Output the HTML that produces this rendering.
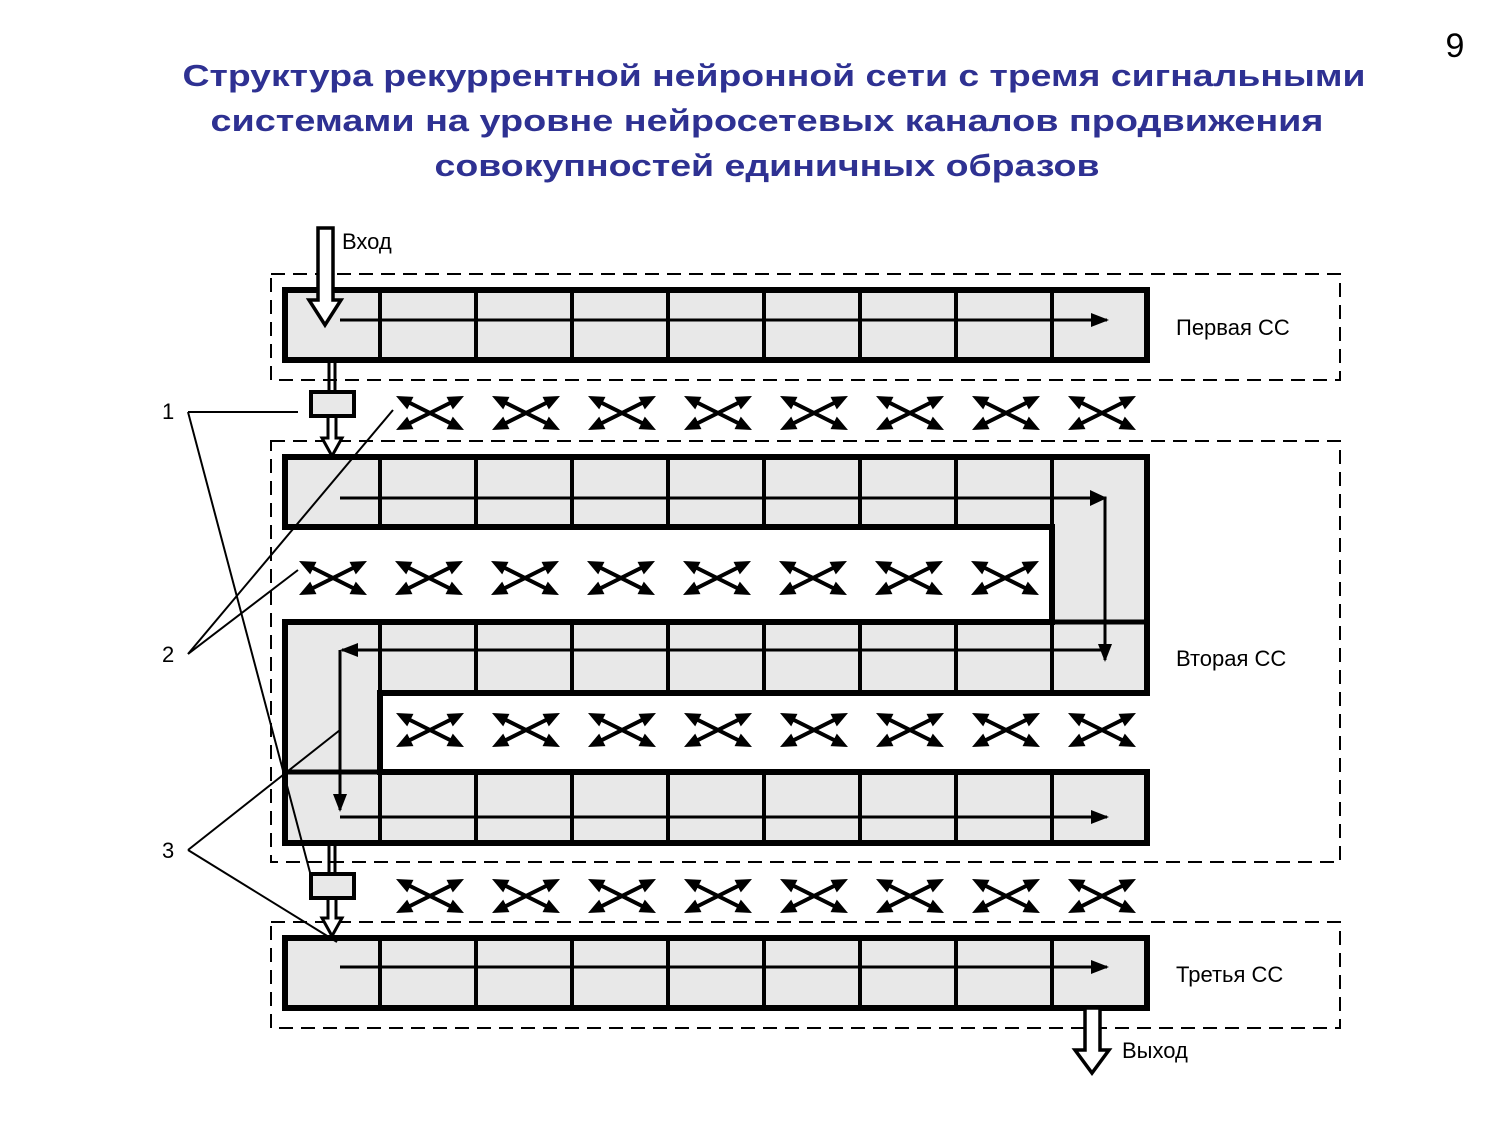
<!DOCTYPE html>
<html><head><meta charset="utf-8"><style>
html,body{margin:0;padding:0;background:#fff;}
svg{display:block;}
</style></head><body>
<svg width="1500" height="1125" viewBox="0 0 1500 1125" xmlns="http://www.w3.org/2000/svg" font-family="Liberation Sans, sans-serif">
<defs>
<marker id="ab" markerWidth="18" markerHeight="14" refX="16" refY="7" orient="auto" markerUnits="userSpaceOnUse">
<path d="M0,0 L18,7 L0,14 Z" fill="#000"/></marker>
<g id="da">
<line x1="-26" y1="0" x2="26" y2="0" stroke="#000" stroke-width="4"/>
<path d="M38,0 L22,-7 L22,7 Z M-38,0 L-22,-7 L-22,7 Z" fill="#000"/>
</g>
<g id="x">
<use href="#da" transform="rotate(26.6)"/>
<use href="#da" transform="rotate(-26.6)"/>
</g>
</defs>

<text x="1455" y="57" font-size="34" text-anchor="middle">9</text>
<g fill="#2e3192" font-weight="bold" font-size="31" text-anchor="middle">
<text x="774" y="86" textLength="1183" lengthAdjust="spacingAndGlyphs">Структура рекуррентной нейронной сети с тремя сигнальными</text>
<text x="767" y="131" textLength="1113" lengthAdjust="spacingAndGlyphs">системами  на уровне нейросетевых каналов продвижения</text>
<text x="767" y="176" textLength="665" lengthAdjust="spacingAndGlyphs">совокупностей единичных образов</text>
</g>

<g fill="none" stroke="#000" stroke-width="2" stroke-dasharray="14,8">
<rect x="271" y="274" width="1069" height="106"/>
<rect x="271" y="441" width="1069" height="421"/>
<rect x="271" y="922" width="1069" height="106"/>
</g>

<rect x="285" y="290" width="862" height="70" fill="#e8e8e8" stroke="#000" stroke-width="6"/>
<rect x="285" y="938" width="862" height="70" fill="#e8e8e8" stroke="#000" stroke-width="6"/>
<path d="M285,457 L1147,457 L1147,693 L380,693 L380,772 L1147,772 L1147,843 L285,843 L285,622 L1052,622 L1052,527 L285,527 Z" fill="#e8e8e8" stroke="#000" stroke-width="6" stroke-linejoin="miter"/>
<g stroke="#000" stroke-width="4">
<line x1="1052" y1="622" x2="1147" y2="622" stroke-width="5"/>
<line x1="285" y1="772" x2="380" y2="772" stroke-width="5"/>
<line x1="1052" y1="457" x2="1052" y2="527"/>
</g>
<g stroke="#000" stroke-width="4">
<line x1="380" y1="290" x2="380" y2="360"/><line x1="476" y1="290" x2="476" y2="360"/><line x1="572" y1="290" x2="572" y2="360"/><line x1="668" y1="290" x2="668" y2="360"/><line x1="764" y1="290" x2="764" y2="360"/><line x1="860" y1="290" x2="860" y2="360"/><line x1="956" y1="290" x2="956" y2="360"/><line x1="1052" y1="290" x2="1052" y2="360"/>
<line x1="380" y1="938" x2="380" y2="1008"/><line x1="476" y1="938" x2="476" y2="1008"/><line x1="572" y1="938" x2="572" y2="1008"/><line x1="668" y1="938" x2="668" y2="1008"/><line x1="764" y1="938" x2="764" y2="1008"/><line x1="860" y1="938" x2="860" y2="1008"/><line x1="956" y1="938" x2="956" y2="1008"/><line x1="1052" y1="938" x2="1052" y2="1008"/>
<line x1="380" y1="457" x2="380" y2="527"/><line x1="476" y1="457" x2="476" y2="527"/><line x1="572" y1="457" x2="572" y2="527"/><line x1="668" y1="457" x2="668" y2="527"/><line x1="764" y1="457" x2="764" y2="527"/><line x1="860" y1="457" x2="860" y2="527"/><line x1="956" y1="457" x2="956" y2="527"/>
<line x1="380" y1="622" x2="380" y2="693"/><line x1="476" y1="622" x2="476" y2="693"/><line x1="572" y1="622" x2="572" y2="693"/><line x1="668" y1="622" x2="668" y2="693"/><line x1="764" y1="622" x2="764" y2="693"/><line x1="860" y1="622" x2="860" y2="693"/><line x1="956" y1="622" x2="956" y2="693"/><line x1="1052" y1="622" x2="1052" y2="693"/>
<line x1="380" y1="772" x2="380" y2="843"/><line x1="476" y1="772" x2="476" y2="843"/><line x1="572" y1="772" x2="572" y2="843"/><line x1="668" y1="772" x2="668" y2="843"/><line x1="764" y1="772" x2="764" y2="843"/><line x1="860" y1="772" x2="860" y2="843"/><line x1="956" y1="772" x2="956" y2="843"/><line x1="1052" y1="772" x2="1052" y2="843"/>
</g>

<g stroke="#000" stroke-width="3" fill="none">
<line x1="340" y1="320" x2="1107" y2="320" marker-end="url(#ab)"/>
<polyline points="340,498 1105,498 1105,660" marker-end="url(#ab)"/>
<line x1="1103" y1="650" x2="342" y2="650" marker-end="url(#ab)"/>
<polyline points="340,650 340,810" marker-end="url(#ab)"/>
<line x1="340" y1="817" x2="1107" y2="817" marker-end="url(#ab)"/>
<line x1="340" y1="967" x2="1107" y2="967" marker-end="url(#ab)"/>
</g>
<path d="M1090,490 L1107,498 L1090,506 Z" fill="#000"/>

<path d="M318,228 L333,228 L333,300 L341,300 L325,325 L309,300 L318,300 Z" fill="#fff" stroke="#000" stroke-width="3.5"/>
<path d="M1085,1008 L1100,1008 L1100,1050 L1109,1050 L1092,1073 L1075,1050 L1085,1050 Z" fill="#fff" stroke="#000" stroke-width="3.5"/>

<g stroke="#000" stroke-width="3" fill="none">
<line x1="329" y1="362" x2="329" y2="392"/><line x1="335" y1="362" x2="335" y2="392"/>
<path d="M328,416 L328,438 L322,438 L332,456 L342,438 L336,438 L336,416" fill="#fff"/>
<line x1="329" y1="845" x2="329" y2="874"/><line x1="335" y1="845" x2="335" y2="874"/>
<path d="M328,897 L328,918 L322,918 L332,936 L342,918 L336,918 L336,897" fill="#fff"/>
</g>
<rect x="311" y="392" width="43" height="24" fill="#e8e8e8" stroke="#000" stroke-width="4"/>
<rect x="311" y="874" width="43" height="24" fill="#e8e8e8" stroke="#000" stroke-width="4"/>

<use href="#x" x="430" y="413"/><use href="#x" x="526" y="413"/><use href="#x" x="622" y="413"/><use href="#x" x="718" y="413"/><use href="#x" x="814" y="413"/><use href="#x" x="910" y="413"/><use href="#x" x="1006" y="413"/><use href="#x" x="1102" y="413"/>
<use href="#x" x="333" y="578"/><use href="#x" x="429" y="578"/><use href="#x" x="525" y="578"/><use href="#x" x="621" y="578"/><use href="#x" x="717" y="578"/><use href="#x" x="813" y="578"/><use href="#x" x="909" y="578"/><use href="#x" x="1005" y="578"/>
<use href="#x" x="430" y="730"/><use href="#x" x="526" y="730"/><use href="#x" x="622" y="730"/><use href="#x" x="718" y="730"/><use href="#x" x="814" y="730"/><use href="#x" x="910" y="730"/><use href="#x" x="1006" y="730"/><use href="#x" x="1102" y="730"/>
<use href="#x" x="430" y="896"/><use href="#x" x="526" y="896"/><use href="#x" x="622" y="896"/><use href="#x" x="718" y="896"/><use href="#x" x="814" y="896"/><use href="#x" x="910" y="896"/><use href="#x" x="1006" y="896"/><use href="#x" x="1102" y="896"/>

<g stroke="#000" stroke-width="2" fill="none">
<line x1="188" y1="412" x2="298" y2="412"/>
<line x1="188" y1="412" x2="312" y2="880"/>
<line x1="188" y1="654" x2="393" y2="410"/>
<line x1="188" y1="654" x2="298" y2="570"/>
<line x1="188" y1="850" x2="340" y2="730"/>
<line x1="188" y1="850" x2="337" y2="942"/>
</g>

<g font-size="22" fill="#000">
<text x="342" y="249">Вход</text>
<text x="1176" y="335">Первая СС</text>
<text x="1176" y="666">Вторая СС</text>
<text x="1176" y="982">Третья СС</text>
<text x="1122" y="1058">Выход</text>
<text x="162" y="419">1</text>
<text x="162" y="662">2</text>
<text x="162" y="858">3</text>
</g>
</svg>
</body></html>
